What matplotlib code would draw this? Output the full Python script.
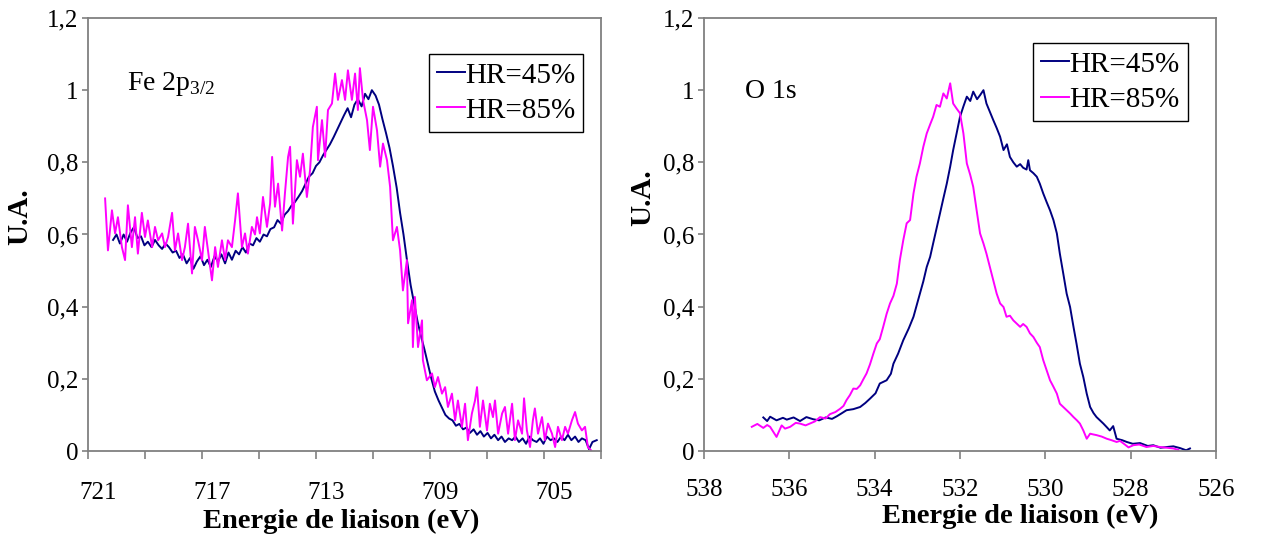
import matplotlib
matplotlib.use("Agg")
import matplotlib.pyplot as plt

plt.rcParams['font.family'] = ['Liberation Serif', 'DejaVu Serif']
plt.rcParams['mathtext.fontset'] = 'custom'
plt.rcParams['mathtext.rm'] = 'Liberation Serif'

NAVY = '#000080'
MAGENTA = '#FF00FF'
GRAY = '#808080'

# Fe 2p3/2 spectra (binding energy in eV, intensity in a.u.)
fe_e_45 = [720.47, 720.35, 720.23, 720.10, 719.98, 719.86, 719.74, 719.61, 719.49, 719.37,
           719.25, 719.12, 719.00, 718.87, 718.75, 718.63, 718.51, 718.38, 718.26, 718.14,
           718.02, 717.89, 717.77, 717.65, 717.53, 717.40, 717.28, 717.16, 717.04, 716.91,
           716.79, 716.67, 716.54, 716.42, 716.30, 716.17, 716.05, 715.93, 715.81, 715.68,
           715.56, 715.44, 715.32, 715.19, 715.07, 714.95, 714.82, 714.70, 714.58, 714.45,
           714.33, 714.21, 714.09, 713.96, 713.84, 713.72, 713.60, 713.47, 713.35, 713.23,
           713.10, 712.98, 712.86, 712.73, 712.61, 712.49, 712.37, 712.24, 712.12, 712.00,
           711.88, 711.75, 711.63, 711.51, 711.39, 711.26, 711.14, 711.02, 710.89, 710.77,
           710.65, 710.52, 710.40, 710.28, 710.16, 710.03, 709.91, 709.79, 709.67, 709.54,
           709.42, 709.30, 709.18, 709.05, 708.93, 708.81, 708.68, 708.56, 708.44, 708.32,
           708.19, 708.07, 707.95, 707.82, 707.70, 707.58, 707.46, 707.33, 707.21, 707.09,
           706.96, 706.84, 706.72, 706.59, 706.47, 706.35, 706.23, 706.10, 705.98, 705.86,
           705.74, 705.61, 705.49, 705.37, 705.25, 705.12, 705.00, 704.88, 704.75, 704.63,
           704.51, 704.39, 704.26, 704.14, 704.02, 703.89, 703.77, 703.65, 703.50]
fe_i_45 = [0.585, 0.600, 0.575, 0.600, 0.580, 0.605, 0.620, 0.590, 0.595, 0.570,
           0.580, 0.565, 0.585, 0.570, 0.560, 0.575, 0.565, 0.550, 0.555, 0.535,
           0.545, 0.520, 0.535, 0.505, 0.525, 0.540, 0.515, 0.530, 0.510, 0.540,
           0.525, 0.545, 0.520, 0.550, 0.530, 0.555, 0.545, 0.565, 0.550, 0.575,
           0.570, 0.590, 0.580, 0.600, 0.595, 0.615, 0.620, 0.640, 0.630, 0.655,
           0.665, 0.680, 0.690, 0.705, 0.720, 0.740, 0.760, 0.770, 0.790, 0.800,
           0.820, 0.835, 0.850, 0.870, 0.890, 0.910, 0.930, 0.950, 0.925, 0.960,
           0.975, 0.955, 0.990, 0.975, 1.000, 0.985, 0.960, 0.920, 0.880, 0.840,
           0.790, 0.730, 0.660, 0.600, 0.530, 0.460, 0.410, 0.360, 0.320, 0.280,
           0.240, 0.200, 0.165, 0.140, 0.120, 0.100, 0.090, 0.085, 0.070, 0.075,
           0.060, 0.065, 0.050, 0.060, 0.045, 0.055, 0.040, 0.050, 0.035, 0.045,
           0.030, 0.040, 0.025, 0.035, 0.030, 0.040, 0.025, 0.035, 0.020, 0.040,
           0.030, 0.025, 0.035, 0.020, 0.040, 0.030, 0.035, 0.025, 0.040, 0.030,
           0.045, 0.030, 0.040, 0.025, 0.035, 0.030, 0.005, 0.025, 0.030]

fe_e_85 = [720.75, 720.65, 720.51, 720.40, 720.30, 720.16, 720.05, 719.95, 719.81, 719.70,
           719.60, 719.46, 719.35, 719.25, 719.10, 719.00, 718.89, 718.75, 718.65, 718.54,
           718.40, 718.30, 718.19, 718.05, 717.95, 717.84, 717.70, 717.60, 717.49, 717.35,
           717.25, 717.14, 717.00, 716.89, 716.79, 716.65, 716.54, 716.44, 716.30, 716.19,
           716.09, 715.95, 715.84, 715.74, 715.60, 715.49, 715.42, 715.32, 715.21, 715.07,
           714.96, 714.89, 714.79, 714.68, 714.54, 714.44, 714.33, 714.26, 714.16, 714.02,
           713.91, 713.81, 713.67, 713.56, 713.46, 713.32, 713.28, 713.14, 713.03, 712.93,
           712.79, 712.68, 712.58, 712.44, 712.33, 712.23, 712.09, 711.98, 711.88, 711.81,
           711.70, 711.56, 711.46, 711.35, 711.21, 711.10, 711.00, 710.86, 710.75, 710.65,
           710.51, 710.40, 710.30, 710.16, 710.12, 709.98, 709.95, 709.88, 709.77, 709.63,
           709.60, 709.46, 709.28, 709.18, 709.07, 708.93, 708.82, 708.72, 708.58, 708.47,
           708.37, 708.23, 708.12, 708.02, 707.88, 707.77, 707.70, 707.60, 707.49, 707.35,
           707.25, 707.14, 707.07, 706.96, 706.82, 706.72, 706.61, 706.47, 706.37, 706.26,
           706.12, 706.05, 705.95, 705.84, 705.74, 705.67, 705.56, 705.42, 705.32, 705.21,
           705.07, 704.96, 704.86, 704.72, 704.61, 704.51, 704.37, 704.26, 704.16, 704.02,
           703.91, 703.81, 703.70]
fe_i_85 = [0.700, 0.556, 0.667, 0.603, 0.648, 0.565, 0.529, 0.681, 0.565, 0.648,
           0.547, 0.660, 0.593, 0.639, 0.565, 0.621, 0.584, 0.603, 0.565, 0.593,
           0.660, 0.556, 0.603, 0.529, 0.565, 0.630, 0.492, 0.621, 0.584, 0.529,
           0.621, 0.556, 0.473, 0.565, 0.510, 0.584, 0.529, 0.584, 0.565, 0.639,
           0.714, 0.565, 0.603, 0.547, 0.621, 0.600, 0.648, 0.603, 0.704, 0.621,
           0.686, 0.815, 0.677, 0.741, 0.611, 0.714, 0.815, 0.843, 0.630, 0.806,
           0.760, 0.824, 0.704, 0.778, 0.898, 0.954, 0.806, 0.917, 0.815, 0.945,
           0.963, 1.046, 0.973, 1.028, 0.973, 1.055, 0.973, 1.046, 0.945, 1.061,
           0.973, 0.917, 0.834, 0.954, 0.889, 0.788, 0.852, 0.806, 0.732, 0.584,
           0.621, 0.556, 0.445, 0.529, 0.354, 0.418, 0.288, 0.427, 0.288, 0.362,
           0.252, 0.196, 0.215, 0.177, 0.205, 0.159, 0.177, 0.122, 0.159, 0.085,
           0.140, 0.067, 0.131, 0.030, 0.104, 0.140, 0.177, 0.067, 0.140, 0.057,
           0.131, 0.094, 0.140, 0.048, 0.104, 0.122, 0.048, 0.131, 0.030, 0.085,
           0.048, 0.146, 0.057, 0.011, 0.085, 0.118, 0.048, 0.094, 0.030, 0.076,
           0.048, 0.011, 0.067, 0.030, 0.067, 0.048, 0.085, 0.108, 0.076, 0.057,
           0.067, 0.011, 0.002]

# O 1s spectra
o_e_45 = [536.61, 536.52, 536.45, 536.30, 536.15, 536.06, 535.90, 535.75, 535.60, 535.44,
          535.30, 535.15, 535.00, 534.89, 534.78, 534.66, 534.50, 534.34, 534.22, 534.11,
          533.98, 533.88, 533.72, 533.62, 533.56, 533.45, 533.33, 533.20, 533.09, 532.94,
          532.86, 532.78, 532.70, 532.63, 532.47, 532.39, 532.31, 532.23, 532.16, 532.08,
          532.00, 531.92, 531.84, 531.76, 531.69, 531.60, 531.53, 531.45, 531.38, 531.30,
          531.22, 531.14, 531.06, 530.98, 530.90, 530.83, 530.75, 530.67, 530.59, 530.52,
          530.44, 530.40, 530.36, 530.28, 530.20, 530.13, 530.05, 529.97, 529.89, 529.81,
          529.73, 529.66, 529.58, 529.50, 529.42, 529.34, 529.27, 529.19, 529.11, 529.03,
          528.95, 528.87, 528.80, 528.72, 528.64, 528.56, 528.49, 528.41, 528.33, 528.20,
          528.09, 527.95, 527.78, 527.60, 527.47, 527.30, 527.16, 527.00, 526.84, 526.70,
          526.61]
o_i_45 = [0.093, 0.083, 0.095, 0.085, 0.092, 0.087, 0.093, 0.083, 0.094, 0.088,
          0.085, 0.093, 0.089, 0.096, 0.104, 0.113, 0.116, 0.122, 0.133, 0.145,
          0.160, 0.187, 0.196, 0.214, 0.242, 0.270, 0.307, 0.340, 0.372, 0.436,
          0.470, 0.510, 0.538, 0.575, 0.658, 0.700, 0.741, 0.788, 0.834, 0.880,
          0.926, 0.955, 0.982, 0.970, 0.996, 0.975, 0.986, 1.000, 0.963, 0.940,
          0.917, 0.895, 0.871, 0.834, 0.850, 0.815, 0.800, 0.788, 0.795, 0.785,
          0.780, 0.806, 0.778, 0.770, 0.760, 0.741, 0.714, 0.690, 0.667, 0.640,
          0.603, 0.547, 0.492, 0.436, 0.399, 0.344, 0.298, 0.242, 0.205, 0.159,
          0.122, 0.105, 0.094, 0.085, 0.076, 0.066, 0.057, 0.069, 0.034, 0.030,
          0.025, 0.020, 0.022, 0.014, 0.016, 0.009, 0.011, 0.013, 0.008, 0.002,
          0.007]

o_e_85 = [536.88, 536.75, 536.61, 536.52, 536.45, 536.30, 536.18, 536.10, 535.98, 535.85,
          535.75, 535.62, 535.52, 535.40, 535.28, 535.15, 535.05, 534.92, 534.81, 534.73,
          534.66, 534.58, 534.50, 534.42, 534.34, 534.26, 534.19, 534.11, 534.03, 533.95,
          533.88, 533.80, 533.72, 533.64, 533.56, 533.48, 533.41, 533.33, 533.25, 533.17,
          533.09, 533.02, 532.94, 532.86, 532.78, 532.70, 532.63, 532.55, 532.47, 532.39,
          532.31, 532.23, 532.16, 532.08, 532.00, 531.92, 531.84, 531.76, 531.69, 531.61,
          531.53, 531.45, 531.38, 531.30, 531.22, 531.14, 531.06, 530.98, 530.91, 530.83,
          530.75, 530.67, 530.59, 530.52, 530.44, 530.36, 530.28, 530.20, 530.13, 530.05,
          529.97, 529.89, 529.81, 529.73, 529.66, 529.58, 529.50, 529.42, 529.34, 529.26,
          529.19, 529.11, 529.03, 528.95, 528.88, 528.80, 528.68, 528.56, 528.45, 528.33,
          528.25, 528.17, 528.05, 527.94, 527.80, 527.63, 527.47, 527.31, 527.15, 527.00,
          526.88]
o_i_85 = [0.067, 0.075, 0.064, 0.072, 0.067, 0.039, 0.071, 0.062, 0.067, 0.078,
          0.076, 0.071, 0.076, 0.082, 0.094, 0.090, 0.102, 0.108, 0.117, 0.125,
          0.141, 0.155, 0.173, 0.172, 0.182, 0.200, 0.215, 0.240, 0.270, 0.298,
          0.310, 0.344, 0.380, 0.409, 0.430, 0.464, 0.529, 0.584, 0.631, 0.640,
          0.714, 0.760, 0.797, 0.843, 0.880, 0.905, 0.926, 0.959, 0.954, 0.991,
          0.977, 1.019, 0.963, 0.949, 0.936, 0.880, 0.797, 0.765, 0.732, 0.667,
          0.603, 0.575, 0.547, 0.510, 0.473, 0.436, 0.409, 0.399, 0.372, 0.375,
          0.362, 0.353, 0.344, 0.352, 0.344, 0.326, 0.316, 0.300, 0.288, 0.252,
          0.224, 0.196, 0.178, 0.159, 0.131, 0.122, 0.113, 0.104, 0.094, 0.085,
          0.076, 0.057, 0.034, 0.048, 0.046, 0.044, 0.040, 0.034, 0.030, 0.025,
          0.028, 0.021, 0.010, 0.016, 0.018, 0.011, 0.014, 0.011, 0.009, 0.007,
          0.003]

y_ticks = [0, 0.2, 0.4, 0.6, 0.8, 1.0, 1.2]
y_labels = ['0', '0,2', '0,4', '0,6', '0,8', '1', '1,2']
fe_labels = [721, 717, 713, 709, 705]
o_ticks = [538, 536, 534, 532, 530, 528, 526]

fig = plt.figure(figsize=(12.61, 5.36), dpi=100)
ax1 = fig.add_axes([88 / 1261, 85 / 536, 513 / 1261, 433 / 536])
ax2 = fig.add_axes([704 / 1261, 85 / 536, 512 / 1261, 433 / 536])


def style_axes(ax):
    for s in ax.spines.values():
        s.set_color(GRAY)
        s.set_linewidth(1.3)
    ax.set_ylim(0, 1.2)
    ax.set_yticks(y_ticks)
    ax.set_yticklabels(y_labels)
    ax.tick_params(axis='y', direction='out', length=4, width=1.2, color=GRAY,
                   labelsize=18, pad=3)


def add_legend(ax, anchor):
    leg = ax.legend(loc='upper left', bbox_to_anchor=anchor, borderaxespad=0,
                    fontsize=21, handlelength=0.95, handletextpad=0.0, borderpad=0.28,
                    labelspacing=0.3, fancybox=False, framealpha=1)
    leg.get_frame().set_edgecolor('black')
    leg.get_frame().set_linewidth(1.0)


# left panel: Fe 2p
ax1.plot(fe_e_45, fe_i_45, color=NAVY, lw=1.4, label='HR=45%')
ax1.plot(fe_e_85, fe_i_85, color=MAGENTA, lw=1.4, label='HR=85%')
style_axes(ax1)
ax1.set_xlim(721.35, 703.35)
ax1.set_xticks(fe_labels)
ax1.tick_params(axis='x', which='major', length=0, labelsize=18, pad=22)
ax1.set_xticks([721.35 - 2 * k for k in range(10)], minor=True)
ax1.tick_params(axis='x', which='minor', direction='out', length=6, width=1.2, color=GRAY)
ax1.text(0.076, 0.834, r'Fe 2p$_{\mathrm{3/2}}$', transform=ax1.transAxes, fontsize=20)
add_legend(ax1, (0.665, 0.917))

# right panel: O 1s
ax2.plot(o_e_45, o_i_45, color=NAVY, lw=1.4, label='HR=45%')
ax2.plot(o_e_85, o_i_85, color=MAGENTA, lw=1.4, label='HR=85%')
style_axes(ax2)
ax2.set_xlim(538, 526)
ax2.set_xticks(o_ticks)
ax2.tick_params(axis='x', direction='out', length=6, width=1.2, color=GRAY,
                labelsize=18, pad=14)
ax2.text(0.080, 0.815, 'O 1s', transform=ax2.transAxes, fontsize=20)
add_legend(ax2, (0.643, 0.942))

# axis titles
fig.text(341 / 1261, 1 - 521 / 536, 'Energie de liaison (eV)', ha='center', va='center',
         fontsize=20.5, fontweight='bold')
fig.text(1020 / 1261, 1 - 516 / 536, 'Energie de liaison (eV)', ha='center', va='center',
         fontsize=20.5, fontweight='bold')
fig.text(20 / 1261, 1 - 217 / 536, 'U.A.', rotation=90, ha='center', va='center',
         fontsize=21, fontweight='bold')
fig.text(643 / 1261, 1 - 198 / 536, 'U.A.', rotation=90, ha='center', va='center',
         fontsize=21, fontweight='bold')

fig.savefig('out.png', dpi=100)
